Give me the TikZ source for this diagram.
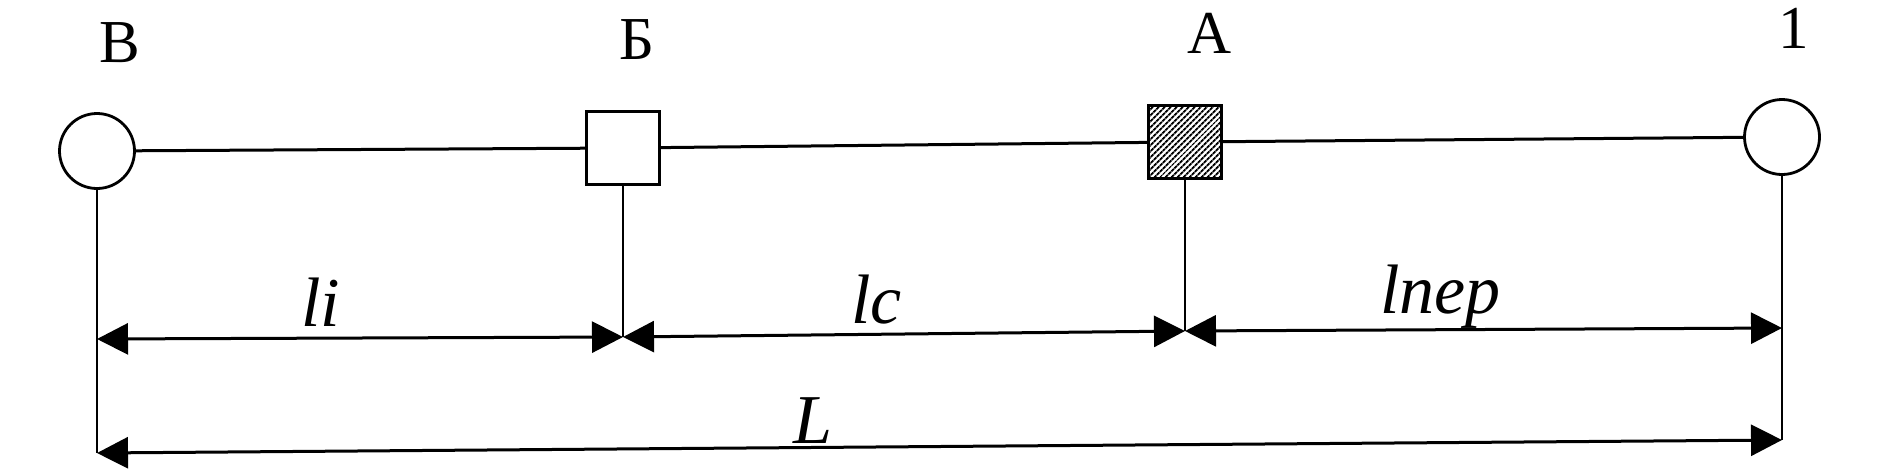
\documentclass[tikz,border=0pt]{standalone}
\usepackage{fontspec}
\setmainfont{Liberation Serif}
\usetikzlibrary{arrows.meta,patterns.meta}
\tikzset{
 lbl/.style={font=\fontsize{61pt}{64pt}\selectfont, inner sep=0pt, anchor=base},
 hnd/.style={font=\fontsize{70pt}{74pt}\selectfont\itshape, inner sep=0pt, anchor=base west},
 ring/.style={circle, draw, line width=2.8pt, minimum size=75pt, inner sep=0pt, fill=white},
 boxw/.style={rectangle, draw, line width=3.2pt, minimum size=73pt, inner sep=0pt, fill=white},
 boxs/.style={boxw, pattern={Lines[angle=45,distance=4pt,line width=2pt]}},
 wire/.style={line width=3pt},
 lead/.style={line width=2.3pt},
 dim/.style={line width=3pt, {Triangle[length=31pt,width=31pt]}-{Triangle[length=31pt,width=31pt]}},
}
\begin{document}
\begin{tikzpicture}[x=1pt,y=-1pt]
\useasboundingbox (0,0) rectangle (1904,475);
% elements
\node[ring] (vB) at (97,151) {};
\node[boxw] (vBe) at (623,148) {};
\node[boxs] (vA) at (1185,142) {};
\node[ring] (v1) at (1782,137) {};
\draw[wire] (vB) -- (vBe);
\draw[wire] (vBe) -- (vA);
\draw[wire] (vA) -- (v1);
% leader lines
\coordinate (pB) at (97,453);
\coordinate (pBe) at (623,337);
\coordinate (pA) at (1185,331);
\coordinate (p1) at (1782,440);
\coordinate (dB) at (97,339);
\coordinate (d1) at (1782,328);
\draw[lead] (vB.south) -- (pB);
\draw[lead] (vBe.south) -- (pBe);
\draw[lead] (vA.south) -- (pA);
\draw[lead] (v1.south) -- (p1);
% dimension lines
\draw[dim] (dB) -- (pBe);
\draw[dim] (pBe) -- (pA);
\draw[dim] (pA) -- (d1);
\draw[dim] (pB) -- (p1);
% labels
\node[lbl] (tB) at (120,62) {В};
\node[lbl] (tBe) at (637,59) {Б};
\node[lbl] (tA) at (1210,53) {А};
\node[lbl] (t1) at (1794,48) {1};
\node[hnd] (li) at (301,326) {li};
\node[hnd] (lc) at (851,323) {lc};
\node[hnd] (lp) at (1380,313) {lпер};
\node[hnd] (lL) at (793,443) {L};
\end{tikzpicture}
\end{document}
